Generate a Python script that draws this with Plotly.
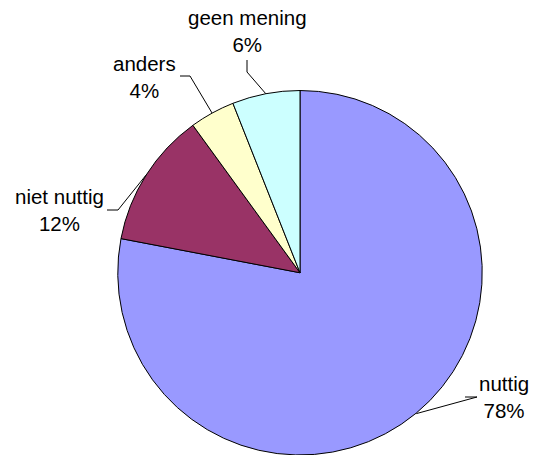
import math
import plotly.graph_objects as go

# dados
categorias = ["nuttig", "niet nuttig", "anders", "geen mening"]
valores = [78, 12, 4, 6]
cores = ["#9999FF", "#993366", "#FFFFCC", "#CCFFFF"]

W, H = 543, 455
# pie geometry in pixels (center, radius)
cx, cy, R = 300, 273, 182.5

# label centre (pixels) and elbow of the leader line (two points, text side)
label_pos = [(504, 397), (59, 210), (144, 77), (247, 31)]
leader_pts = [
    [(465, 397), (477, 397)],
    [(107, 210), (118, 210)],
    [(180, 76), (190, 76)],
    [(247, 60), (247, 72)],
]


def px(x, y):
    return x / W, 1 - y / H


fig = go.Figure(
    go.Pie(
        labels=categorias,
        values=valores,
        marker=dict(colors=cores, line=dict(color="black", width=1)),
        sort=False,
        direction="clockwise",
        rotation=0,
        textinfo="none",
        hoverinfo="label+percent",
        showlegend=False,
        domain=dict(
            x=[(cx - R) / W, (cx + R) / W],
            y=[max(0, (H - cy - R) / H), (H - cy + R) / H],
        ),
    )
)

total = sum(valores)
acc = 0
for cat, v, (lx, ly), pts in zip(categorias, valores, label_pos, leader_pts):
    mid = (acc + v / 2) / total * 2 * math.pi
    acc += v
    ex = cx + R * math.sin(mid)
    ey = cy - R * math.cos(mid)
    x0, y0 = px(*pts[0])
    x1, y1 = px(*pts[1])
    x2, y2 = px(ex, ey)
    fig.add_shape(
        type="path",
        path=f"M {x0} {y0} L {x1} {y1} L {x2} {y2}",
        xref="paper",
        yref="paper",
        line=dict(color="#000000", width=1),
    )
    ax_, ay_ = px(lx, ly)
    fig.add_annotation(
        x=ax_,
        y=ay_,
        xref="paper",
        yref="paper",
        text=f"{cat}<br>{round(v / total * 100)}%",
        showarrow=False,
        xanchor="center",
        yanchor="middle",
        align="center",
        font=dict(family="Liberation Sans, Arial", size=20.5, color="black"),
    )

fig.update_layout(
    width=W,
    height=H,
    margin=dict(l=0, r=0, t=0, b=0),
    paper_bgcolor="white",
    plot_bgcolor="white",
)

# sem a margem padrão do <body>, para a figura ocupar a janela toda
fig.write_html(
    "out.html",
    config={"displayModeBar": False},
    post_script="document.body.style.margin = '0';",
)
